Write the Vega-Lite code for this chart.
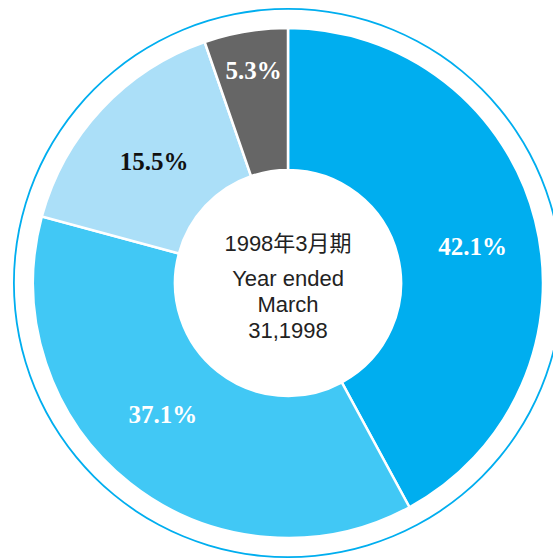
{
  "$schema": "https://vega.github.io/schema/vega-lite/v6.json",
  "width": 530,
  "height": 550,
  "autosize": "none",
  "padding": {"left": 23, "top": 8, "right": 0, "bottom": 0},
  "background": "white",
  "config": {"view": {"stroke": null}},
  "data": {
    "values": [
      {"label": "42.1%", "share": 42.1},
      {"label": "37.1%", "share": 37.1},
      {"label": "15.5%", "share": 15.5},
      {"label": "5.3%", "share": 5.3}
    ]
  },
  "transform": [
    {"window": [{"op": "sum", "field": "share", "as": "end"}]},
    {"calculate": "datum.end - datum.share", "as": "start"},
    {"calculate": "datum.end - datum.share / 2", "as": "mid"}
  ],
  "layer": [
    {
      "transform": [{"aggregate": [{"op": "count", "as": "n"}]}],
      "mark": {"type": "arc", "theta": 0, "theta2": 6.2832, "radius": 275, "radius2": 273.2, "fill": "#00AEEF"},
      "encoding": {}
    },
    {
      "mark": {"type": "arc", "outerRadius": 255, "innerRadius": 113, "stroke": "white", "strokeWidth": 2.5},
      "encoding": {
        "theta": {"field": "start", "type": "quantitative", "scale": {"domain": [0, 100]}},
        "theta2": {"field": "end"},
        "color": {
          "field": "label",
          "type": "nominal",
          "scale": {"domain": ["42.1%", "37.1%", "15.5%", "5.3%"], "range": ["#00AEEF", "#41C8F5", "#ABDFF8", "#666666"]},
          "legend": null
        }
      }
    },
    {
      "transform": [{"filter": "datum.label === '42.1%'"}],
      "mark": {"type": "text", "radius": 188, "thetaOffset": 0.0555, "font": "Liberation Serif", "fontWeight": "bold", "fontSize": 25, "fill": "white", "baseline": "middle", "align": "center"},
      "encoding": {
        "theta": {"field": "mid", "type": "quantitative", "scale": {"domain": [0, 100]}},
        "text": {"field": "label"}
      }
    },
    {
      "transform": [{"filter": "datum.label === '37.1%'"}],
      "mark": {"type": "text", "radius": 182, "thetaOffset": 0.089, "font": "Liberation Serif", "fontWeight": "bold", "fontSize": 25, "fill": "white", "baseline": "middle", "align": "center"},
      "encoding": {
        "theta": {"field": "mid", "type": "quantitative", "scale": {"domain": [0, 100]}},
        "text": {"field": "label"}
      }
    },
    {
      "transform": [{"filter": "datum.label === '15.5%'"}],
      "mark": {"type": "text", "radius": 180.5, "thetaOffset": -0.016, "font": "Liberation Serif", "fontWeight": "bold", "fontSize": 25, "fill": "#111111", "baseline": "middle", "align": "center"},
      "encoding": {
        "theta": {"field": "mid", "type": "quantitative", "scale": {"domain": [0, 100]}},
        "text": {"field": "label"}
      }
    },
    {
      "transform": [{"filter": "datum.label === '5.3%'"}],
      "mark": {"type": "text", "radius": 215, "thetaOffset": 0.006, "font": "Liberation Serif", "fontWeight": "bold", "fontSize": 25, "fill": "white", "baseline": "middle", "align": "center"},
      "encoding": {
        "theta": {"field": "mid", "type": "quantitative", "scale": {"domain": [0, 100]}},
        "text": {"field": "label"}
      }
    },
    {
      "transform": [{"aggregate": [{"op": "count", "as": "n"}]}],
      "mark": {"type": "text", "text": "1998年3月期", "font": "Liberation Sans, Noto Sans CJK JP", "fontSize": 22, "fill": "#222222", "align": "center", "baseline": "alphabetic", "dy": -32},
      "encoding": {}
    },
    {
      "transform": [{"aggregate": [{"op": "count", "as": "n"}]}],
      "mark": {"type": "text", "text": ["Year ended", "March", "31,1998"], "lineHeight": 26, "font": "Liberation Sans", "fontSize": 22, "fill": "#222222", "align": "center", "baseline": "alphabetic", "dy": 3},
      "encoding": {}
    }
  ]
}
